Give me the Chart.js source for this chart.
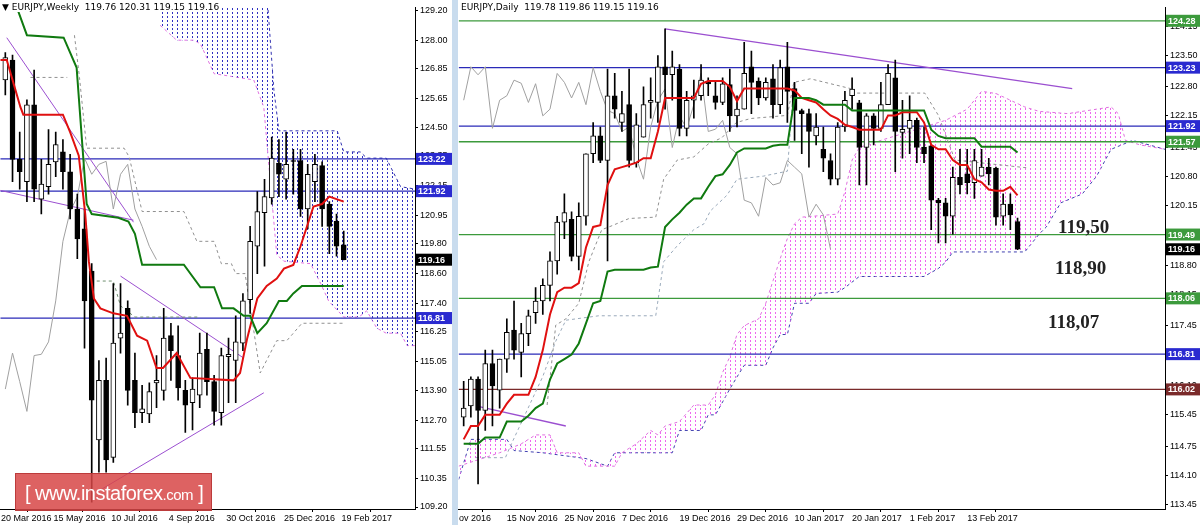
<!DOCTYPE html>
<html><head><meta charset="utf-8">
<script src="https://cdn.jsdelivr.net/npm/chart.js@4.4.1/dist/chart.umd.min.js"></script>
<style>
html,body{margin:0;padding:0;background:#c9dcee;width:1200px;height:525px;overflow:hidden;font-family:"Liberation Sans",Arial,sans-serif}
#w{position:absolute;left:0;top:0;width:452px;height:525px;background:#fff}
#d{position:absolute;left:458px;top:0;width:742px;height:525px;background:#fff}
.hd{position:absolute;top:2px;font:9px "DejaVu Sans",sans-serif;color:#000;background:#fff;white-space:pre}
#wm{position:absolute;left:15px;top:473px;width:197px;height:38px;background:rgba(215,70,70,0.85);border:1px solid rgba(180,50,50,0.8);color:#fff;font:20px "Liberation Sans",Arial,sans-serif;letter-spacing:-0.5px;line-height:38px;box-sizing:border-box;padding-left:9px;white-space:pre}
#wm small{font-size:15px}
</style></head><body>
<canvas id="w" width="452" height="525"></canvas>
<canvas id="d" width="742" height="525"></canvas>
<div class="hd" style="left:2px">▼ EURJPY,Weekly  119.76 120.31 119.15 119.16</div>
<div class="hd" style="left:461px">EURJPY,Daily  119.78 119.86 119.15 119.16</div>
<div id="wm">[ www.instaforex<small>.com</small> ]</div>
<script>
// ---------- WEEKLY DATA ----------
const wOpen =[126.4,127.2,123.2,122.3,125.4,121.6,122.1,123.1,123.5,122.7,121.2,120.4,118.7,111.9,114.3,111.2,116.0,117.2,114.3,113.0,112.95,114.2,113.9,116.1,115.3,113.9,113.4,113.7,115.55,114.25,113.0,115.25,115.1,115.8,117.55,119.7,121.05,121.65,123.05,122.4,123.15,123.15,121.2,122.3,122.95,121.4,120.7,119.76];
const wHigh =[127.5,127.4,124.3,125.6,126.8,123.2,124.4,124.3,124.0,123.4,121.8,121.2,119.0,115.1,115.2,118.2,118.2,117.5,115.4,114.1,114.2,115.3,117.2,116.6,116.5,114.3,114.4,116.2,116.2,114.5,115.6,116.0,116.9,117.8,120.5,121.9,122.4,124.1,124.0,124.3,123.6,123.6,123.0,123.4,123.1,121.5,121.0,120.31];
const wLow  =[125.8,122.3,122.0,121.5,121.5,121.0,121.8,122.5,122.0,120.8,119.2,115.6,109.4,110.6,110.6,111.0,115.4,113.3,112.4,112.6,112.6,113.2,113.5,114.3,113.5,112.2,112.3,113.2,113.7,112.5,112.5,113.4,113.4,115.5,117.0,118.6,118.9,121.4,121.7,121.6,121.8,120.9,120.4,121.5,120.5,119.4,119.3,119.15];
const wClose=[127.3,123.2,122.7,125.4,122.0,122.2,123.0,123.8,122.7,121.2,120.0,117.5,113.5,114.3,111.1,115.8,116.2,113.9,113.0,113.15,113.85,114.3,116.0,115.5,114.0,113.3,113.95,115.4,114.25,113.05,115.3,115.35,115.85,117.5,119.9,121.1,121.7,123.25,122.6,123.0,123.12,121.2,122.6,123.0,121.2,120.5,119.7,119.16];
const wXLabels=["20 Mar 2016","15 May 2016","10 Jul 2016","4 Sep 2016","30 Oct 2016","25 Dec 2016","19 Feb 2017"];
const wXLabelIdx=[-0.6,6.7,14.7,22.7,30.7,38.7,46.7];
const wYTicks=[129.20,128.00,126.85,125.65,124.50,123.35,122.15,120.95,119.80,118.60,117.40,116.25,115.05,113.90,112.70,111.55,110.35,109.20];
const wTenkan=[[-0.7,127.2],[0.2,127.2],[1.2,126.2],[2.1,125.3],[2.5,125.0],[8,125.0],[9,124.3],[10.2,123.35],[11.1,121.0],[11.6,119.1],[12.3,117.6],[13.2,117.2],[15,117.0],[16.9,116.9],[18.3,116.1],[19.7,115.9],[21,114.8],[21.9,114.8],[23.8,115.4],[25.7,114.4],[31.7,114.3],[32.6,114.6],[33.6,116.0],[35,117.6],[36.3,118.1],[37.7,118.4],[38.7,118.8],[40,118.95],[41,119.7],[42.8,121.3],[44,121.4],[45,121.7],[47,121.5]];
const wKijun=[[1.5,129.4],[3,128.2],[8.1,128.1],[9.9,126.9],[11.3,121.4],[12,121.0],[15.7,120.85],[17.1,120.7],[18,120.2],[19,118.96],[24.8,118.96],[27.1,118.05],[29,118.05],[30.1,117.2],[31.7,117.2],[33.1,116.9],[34,116.9],[35,116.2],[36.3,116.6],[38,117.5],[39.1,117.5],[40,117.8],[41.2,118.1],[47,118.1]];
const wDash1=[[9.6,128.2],[10.3,126.5],[11.3,123.65],[16.5,123.65],[17.2,123.3],[19,121.1],[24.8,121.1],[26.6,119.9],[29,119.9],[30,119.0],[31.4,119.0],[32,118.6],[33.3,118.6],[35.4,114.6],[37.7,115.9],[39.1,115.9],[41.2,116.6],[47,116.6]];
const wDash2=[[3.5,126.5],[8.6,126.5]];
const wDash3=[[12.7,118.3],[15,118.3],[16,117.3],[18,116.85],[27,116.85]];
const wSpanA=[[21.5,128.6],[23.8,128.0],[26.2,128.0],[27.1,127.85],[29,126.65],[34.5,126.4],[35.9,125.3],[37.7,119.35],[38.7,119.1],[42.4,119.0],[43.8,118.2],[44.9,117.5],[47,116.85],[49.1,116.85],[50.2,117.1],[51.6,116.4],[52.9,116.2],[54.9,116.2],[55.8,115.7],[57,115.7]];
const wSpanB=[[21.5,130],[36.3,130],[37.3,126.0],[38,124.35],[46.1,124.35],[47,123.5],[49.3,123.5],[50.2,123.25],[52.9,123.25],[54.9,122.1],[57,122.0]];
const wTrend=[[[0.2,128.1],[17.8,120.67]],[[-0.7,121.95],[17.8,120.75]],[[16,118.5],[33.1,115.2]],[[12.7,109.8],[35.9,113.8]]];
const wLevels=[123.22,121.92,116.81];

// ---------- DAILY DATA ----------
const dOpen =[115.4,115.65,116.25,115.55,116.6,116.0,116.7,117.35,116.85,117.27,117.74,118.0,118.35,118.9,119.77,119.83,119.0,119.9,121.3,121.7,121.15,122.6,122.0,122.4,121.1,121.67,122.45,122.45,123.25,123.07,123.2,121.87,122.5,122.6,122.9,122.6,122.45,122.85,122.15,122.3,123.25,122.93,122.55,122.98,122.4,123.25,122.76,122.27,122.2,121.7,121.4,121.15,120.73,121.9,122.6,122.44,121.44,122.15,121.87,122.4,123.0,121.78,121.87,122.05,121.45,121.48,120.26,120.2,119.9,120.77,120.85,120.65,120.8,121.0,120.98,119.9,120.17,119.78];
const dHigh =[116.2,116.3,116.3,116.9,116.9,116.7,117.6,118.0,117.5,117.8,118.3,118.5,119.1,119.9,120.4,120.0,120.2,121.3,122.0,121.9,123.2,123.1,122.7,123.2,122.2,122.8,123.0,123.5,124.1,123.6,123.3,122.7,122.95,123.3,123.0,122.9,123.0,123.2,122.6,123.8,123.6,123.0,123.0,123.3,123.4,123.8,122.9,122.3,122.3,122.2,121.9,121.3,122.0,122.7,123.0,122.5,122.2,122.2,122.9,123.3,123.4,122.5,122.6,122.1,121.9,121.5,120.3,120.3,121.0,121.4,121.4,121.4,121.4,121.2,121.0,120.4,120.4,119.86];
const dLow  =[115.2,115.4,113.9,115.1,115.2,115.6,116.4,116.7,116.3,117.0,117.5,117.7,118.0,118.6,119.4,118.9,118.7,119.7,121.1,121.1,118.9,122.1,121.8,121.0,121.0,121.67,122.1,122.0,122.3,122.5,121.7,121.7,122.1,122.5,122.6,122.3,122.4,121.8,121.9,122.3,122.2,122.4,122.5,122.1,122.2,122.0,121.6,121.3,121.0,121.5,120.9,120.6,120.6,121.8,122.3,120.6,120.6,121.5,121.8,122.4,120.9,121.2,121.3,121.1,121.1,119.6,119.3,119.3,119.5,120.4,120.4,120.3,120.8,120.6,119.7,119.7,119.6,119.15];
const dClose=[115.6,116.25,115.55,116.6,116.1,116.7,117.3,116.9,117.27,117.67,118.0,118.35,118.9,119.77,119.98,119.0,119.9,121.3,121.7,121.15,122.6,122.3,122.2,121.15,121.95,122.4,122.5,123.25,123.07,123.25,121.87,122.5,122.6,122.95,122.88,122.45,122.87,122.15,122.3,123.1,122.9,122.55,122.9,122.4,123.23,122.7,122.27,122.2,121.8,121.9,121.2,120.73,121.9,122.5,122.75,121.44,122.15,121.87,122.4,123.1,121.8,121.85,122.05,121.44,121.3,120.26,120.2,119.9,120.77,120.6,120.65,121.15,121.0,120.85,119.88,120.17,119.93,119.16];
const dXLabels=["ov 2016","15 Nov 2016","25 Nov 2016","7 Dec 2016","19 Dec 2016","29 Dec 2016","10 Jan 2017","20 Jan 2017","1 Feb 2017","13 Feb 2017"];
const dXLabelIdx=[-0.65,6,14,22,30,38,46,54,62,70];
const dYTicks=[124.15,123.50,122.80,122.15,121.45,120.80,120.15,119.50,118.80,118.15,117.45,116.80,116.10,115.45,114.75,114.10,113.45];
const dTenkan=[114.9,115.2,115.2,115.45,115.45,115.45,115.7,115.9,115.9,115.9,116.3,116.9,117.7,118.2,118.3,118.3,118.4,119.2,119.66,119.7,120.6,120.95,121.0,121.05,121.1,121.2,121.2,121.8,122.55,122.55,122.55,122.55,122.55,122.87,122.93,122.93,122.93,122.8,122.48,122.76,122.76,122.76,122.76,122.76,122.76,122.76,122.72,122.55,122.5,122.45,122.3,122.16,122.08,121.95,121.9,121.84,121.84,121.84,121.84,122.16,122.16,122.23,122.23,122.23,122.0,121.5,121.4,121.4,121.16,121.05,121.05,120.73,120.66,120.5,120.47,120.47,120.56,120.37];
const dKijun=[114.8,114.8,114.8,114.94,114.94,114.94,115.3,115.3,115.3,115.43,115.6,115.7,116.24,116.6,116.7,116.8,117.05,117.5,117.95,118.0,118.66,118.7,118.7,118.7,118.7,118.7,118.75,118.77,119.66,119.83,119.98,120.16,120.3,120.3,120.56,120.8,120.84,121.05,121.33,121.42,121.42,121.42,121.42,121.48,121.5,121.5,122.55,122.55,122.55,122.5,122.4,122.4,122.4,122.4,122.27,122.27,122.27,122.27,122.27,122.27,122.27,122.27,122.27,122.27,122.27,121.84,121.7,121.65,121.65,121.65,121.65,121.65,121.46,121.46,121.46,121.46,121.46,121.33];
const dDash1=[[11.6,115.67],[12.8,117.46],[14.2,117.6],[16,117.95],[17.4,118.88],[19.2,119.6],[20.2,119.66],[23,119.85],[26.7,119.88],[27.8,120.73],[29.7,121.16],[32,121.23],[34,121.52],[35.9,121.66],[37.9,122.0],[39.9,122.09],[45,122.16],[45.9,122.9],[48.2,122.98],[53.8,122.76],[54,122.66],[64.1,122.66],[66,122.16],[68.3,121.16],[78.6,120.98]];
const dDash2=[[1.7,114.49],[5.8,114.49],[6.5,114.75],[11,116.31],[12.8,117.1],[14.2,117.57],[18.8,117.67],[26.7,117.67],[27.8,118.88],[29.7,119.24],[32,119.6],[33.4,119.73],[34.3,120.02],[36.6,120.37],[38,120.73],[41.7,120.8],[45,120.91],[45.9,122.9]];
const dSpanA=[[-0.7,114.3],[5,114.6],[8,114.8],[10,115.0],[12,115.0],[13,114.6],[16,114.6],[17,114.3],[21,114.3],[22,114.6],[24,114.8],[26,115.1],[27,115.0],[28,115.2],[30,115.3],[32,115.67],[34,115.67],[35,115.9],[36,116.4],[37,116.75],[38,117.25],[39,117.45],[41,117.6],[42,117.95],[43,118.45],[44,118.95],[45,119.4],[46,119.73],[47,119.88],[50,119.92],[52,119.95],[53,120.45],[54,121.16],[55,121.44],[57,121.55],[59,121.65],[61,121.75],[64,121.9],[67,122.05],[70,122.3],[72,122.7],[74,122.65],[76,122.5],[78,122.35],[80,122.25],[84,122.2],[88,122.3],[90,122.35],[91,122.2],[92,121.6],[94,121.5],[97.5,121.4]];
const dSpanB=[[-0.7,114.0],[1,114.9],[6,114.9],[7,114.65],[11,114.6],[17,114.47],[20,114.3],[21,114.6],[29,114.6],[30,115.1],[33,115.1],[34,115.45],[35,115.45],[36,115.74],[37,116.03],[38,116.3],[39,116.56],[42,116.56],[43,116.95],[44,117.25],[45,117.25],[46,117.95],[48,117.95],[49,118.17],[52,118.2],[53,118.3],[55,118.55],[64,118.55],[66,118.73],[67,118.87],[68,119.1],[78,119.1],[80,119.5],[81,119.66],[83,120.2],[86,120.4],[88,120.8],[90,121.4],[93,121.6],[97.5,121.4]];
const dTrend=[[[28,124.1],[84.6,122.76]],[[2,115.64],[14.2,115.2]]];
const dGreenLevels=[124.28,121.57,119.49,118.06];
const dBlueLevels=[123.23,121.92,116.81];
const dRedLevels=[116.02];
const dNotes=[["119,50",119.63],["118,90",118.72],["118,07",117.5]];

// ---------- HELPERS ----------
const pts=a=>a.map(p=>({x:p[0],y:p[1]}));
function pattern(ctx,color){const c=document.createElement('canvas');c.width=5;c.height=4;const g=c.getContext('2d');g.fillStyle=color;g.fillRect(2,0,1,2);return ctx.createPattern(c,'repeat');}
function candles(O,H,L,C,bw){
  const wick={type:'bar',grouped:false,order:4,barThickness:1,backgroundColor:'#000',data:O.map((o,i)=>({x:i,y:[L[i],H[i]]}))};
  const body={type:'bar',grouped:false,order:3,barThickness:bw,borderWidth:1,borderColor:'#000',borderSkipped:false,
    backgroundColor:O.map((o,i)=>C[i]>=o?'#fff':'#000'),
    data:O.map((o,i)=>{let a=Math.min(o,C[i]),b=Math.max(o,C[i]);if(b-a<0.03){a-=0.015;b+=0.015;}return {x:i,y:[a,b]};})};
  return [wick,body];
}
function line(data,color,w,dash,order){return {type:'line',data,borderColor:color,borderWidth:w,borderDash:dash||[],pointRadius:0,fill:false,order:order||2,tension:0};}
function hline(v,xmin,xmax,color){return line([{x:xmin,y:v},{x:xmax,y:v}],color,1.3,[],6);}
const labelPlugin=(boxes,notes)=>({id:'lbl',afterDraw(ch){
  const g=ch.ctx,ys=ch.scales.y,xa=ch.chartArea.right;
  g.save();g.font='bold 9px "Liberation Sans",sans-serif';g.textBaseline='middle';
  boxes.forEach(b=>{const y=ys.getPixelForValue(b[0]);g.fillStyle=b[1];g.fillRect(xa+1,y-6,36,12);g.fillStyle='#fff';g.fillText(b[0].toFixed(2),xa+3,y+0.5);});
  if(notes){g.font='bold 19px "Liberation Serif",serif';g.fillStyle='#222';notes.forEach(n=>{g.fillText(n[0],n[2],ys.getPixelForValue(n[1]));});}
  g.restore();}});
function opts(xmin,xmax,ymin,ymax,yT,xIdx,xLab,axisW){
  return {responsive:false,animation:false,events:[],layout:{padding:0},
    plugins:{legend:{display:false},tooltip:{enabled:false}},
    scales:{
      x:{type:'linear',min:xmin,max:xmax,offset:false,grid:{display:true,drawOnChartArea:false,drawTicks:true,tickLength:3,color:'#000'},border:{color:'#000'},
        afterBuildTicks:s=>{s.ticks=xIdx.map(v=>({value:v}));},afterFit:s=>{s.height=16;},
        ticks:{autoSkip:false,maxRotation:0,align:'start',padding:1,color:'#000',font:{size:9,family:'"Liberation Sans",sans-serif'},callback:(v,i)=>xLab[i]}},
      y:{type:'linear',position:'right',min:ymin,max:ymax,grid:{display:true,drawOnChartArea:false,drawTicks:true,tickLength:3,color:'#000'},border:{color:'#000'},
        afterBuildTicks:s=>{s.ticks=yT.map(v=>({value:v}));},afterFit:s=>{s.width=axisW;},
        ticks:{autoSkip:false,padding:2,color:'#000',font:{size:9,family:'"Liberation Sans",sans-serif'},callback:v=>v.toFixed(2)}}}};
}

// ---------- WEEKLY CHART ----------
const wc=document.getElementById('w').getContext('2d');
const wMin=-0.7,wMax=56.9;
const wChikou=wClose.slice(26).map((c,i)=>({x:i,y:c}));
new Chart(wc,{data:{datasets:[
  Object.assign(line(pts(wSpanB),'#3030b0',1,[3,3],9),{fill:'+1',backgroundColor:pattern(wc,'#3030c0')}),
  line(pts(wSpanA),'#e070e0',1,[3,3],9),
  ...wLevels.map(v=>hline(v,wMin,wMax,'#2a2ab8')),
  ...candles(wOpen,wHigh,wLow,wClose,5),
  line(wChikou,'#a0a0a0',1,[],5),
  line(pts(wDash1),'#909090',1,[3,3],5),
  line(pts(wDash2),'#909090',1,[3,3],5),
  line(pts(wDash3),'#709070',1,[3,3],5),
  ...wTrend.map(t=>line(pts(t),'#9b4fd0',1,[],5)),
  line(pts(wKijun),'#107a10',2,[],1),
  line(pts(wTenkan),'#e01010',2,[],1)
]},options:opts(wMin,wMax,109.12,129.32,wYTicks,wXLabelIdx,wXLabels,37),
plugins:[labelPlugin([[123.22,'#2a2ad0'],[121.92,'#2a2ad0'],[119.16,'#000'],[116.81,'#2a2ad0']])]});

// ---------- DAILY CHART ----------
const dc=document.getElementById('d').getContext('2d');
const dMin=-0.7,dMax=97.5;
const dChikou=dClose.slice(26).map((c,i)=>({x:i,y:c}));
const dT=dTenkan.map((v,i)=>({x:i,y:v})),dK=dKijun.map((v,i)=>({x:i,y:v}));
new Chart(dc,{data:{datasets:[
  Object.assign(line(pts(dSpanA),'#e070e0',1,[3,3],9),{fill:'+1',backgroundColor:pattern(dc,'#ee66ee')}),
  line(pts(dSpanB),'#4040b0',1,[3,3],9),
  ...dGreenLevels.map(v=>hline(v,dMin,dMax,'#3c9a3c')),
  ...dBlueLevels.map(v=>hline(v,dMin,dMax,'#2a2ab8')),
  ...dRedLevels.map(v=>hline(v,dMin,dMax,'#7a2a2a')),
  ...candles(dOpen,dHigh,dLow,dClose,5),
  line(dChikou,'#a0a0a0',1,[],5),
  line(pts(dDash1),'#909090',1,[3,3],5),
  line(pts(dDash2),'#9aaabb',1,[3,3],5),
  ...dTrend.map(t=>line(pts(t),'#9b4fd0',1.3,[],5)),
  line(dK,'#107a10',2,[],1),
  line(dT,'#e01010',2,[],1)
]},options:opts(dMin,dMax,113.34,124.58,dYTicks,dXLabelIdx,dXLabels,35),
plugins:[labelPlugin([[124.28,'#3c9a3c'],[123.23,'#2a2ad0'],[121.92,'#2a2ad0'],[121.57,'#3c9a3c'],[119.49,'#3c9a3c'],[119.16,'#000'],[118.06,'#3c9a3c'],[116.81,'#2a2ad0'],[116.02,'#7a2a2a']],
  dNotes.map((n,i)=>[n[0],n[1],[600,597,590][i]]))]});
</script></body></html>
